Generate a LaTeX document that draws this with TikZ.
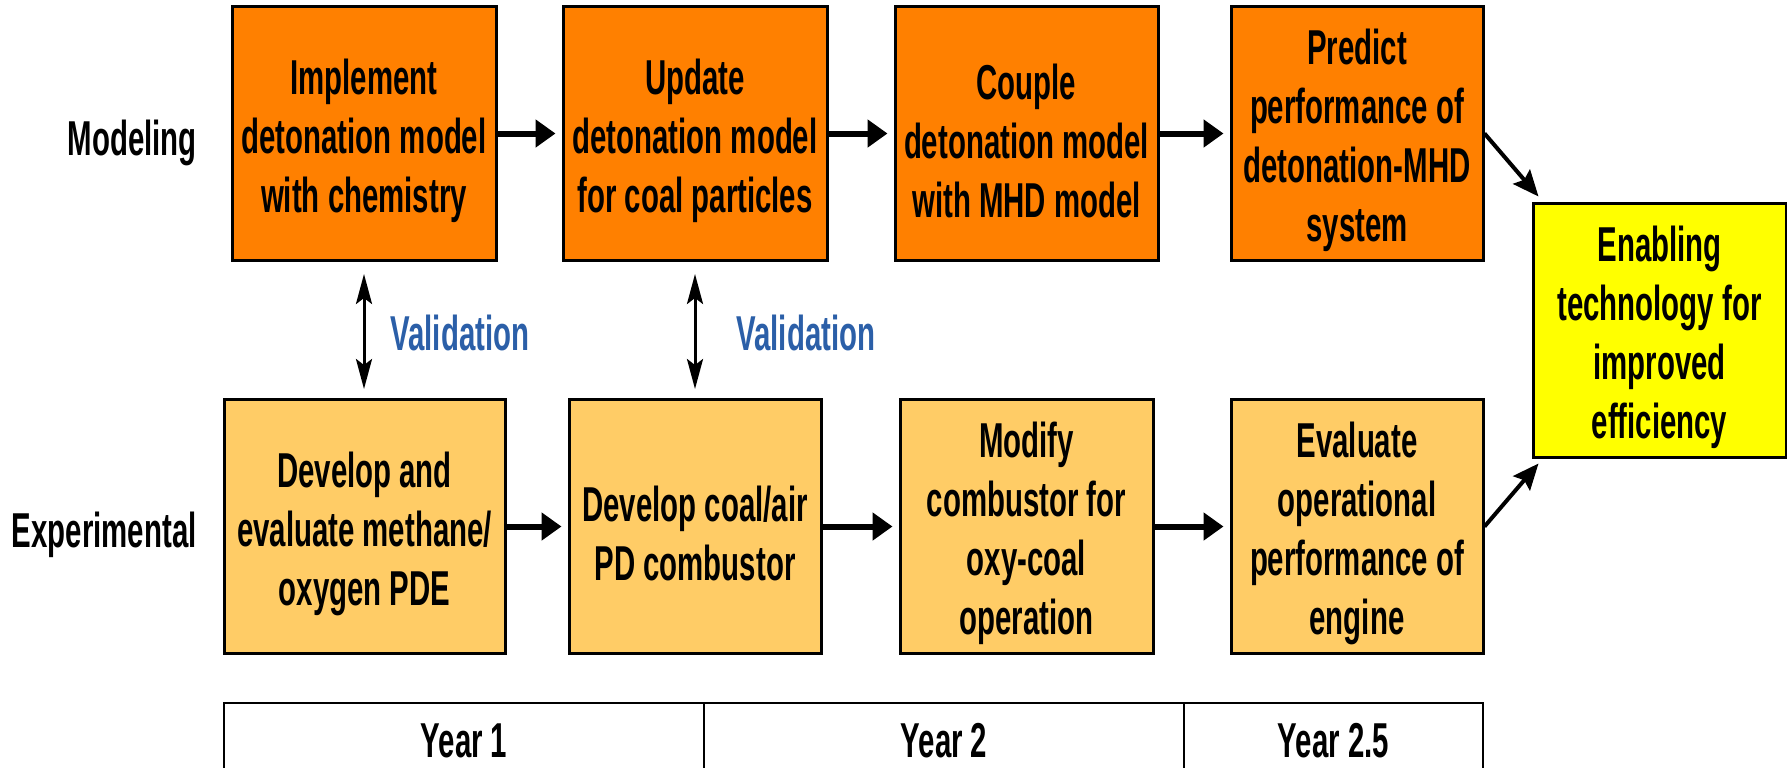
\documentclass[tikz,border=0pt]{standalone}
\usepackage{fontspec}
\newfontfamily\cf{Liberation Sans}[FakeStretch=0.6]
\usetikzlibrary{arrows.meta,calc}
\definecolor{topor}{HTML}{FF8000}
\definecolor{botor}{HTML}{FFCC66}
\definecolor{ylw}{HTML}{FFFF00}
\definecolor{valblue}{HTML}{2B5FA8}
\begin{document}
\begin{tikzpicture}[x=0.5pt,y=-0.5pt,
  txt/.style={font=\cf\bfseries\fontsize{24.5}{29.5}\selectfont, inner sep=0pt, align=center},
  boxbase/.style={draw=black, line width=1.5pt, minimum height=127pt, inner sep=0pt},
  topbox/.style={boxbase, fill=topor},
  botbox/.style={boxbase, fill=botor},
  endbox/.style={boxbase, fill=ylw},
  boxtext/.style={txt, yshift=-3.5pt},
  flow/.style={line width=3pt, -{Triangle[length=10pt,width=13.5pt]}, shorten >=3pt},
  valarrow/.style={line width=1.5pt, {Stealth[length=15pt,width=8pt,inset=3pt]}-{Stealth[length=15pt,width=8pt,inset=3pt]}},
  diag/.style={line width=2pt, -{Stealth[length=13pt,width=11pt,inset=2pt]}},
  tabline/.style={line width=1pt}
]
\clip (0,0) rectangle (1787,767);
\useasboundingbox (0,0) rectangle (1787,767);

% row labels
\node[txt, anchor=base east] (lmod) at (197,155) {Modeling};
\node[txt, anchor=base east] (lexp) at (197,547) {Experimental};

% top row
\node[topbox, minimum width=132pt] (t1) at (364,133.5) {};
\node[topbox, minimum width=132pt] (t2) at (695,133.5) {};
\node[topbox, minimum width=131.5pt] (t3) at (1026.5,133.5) {};
\node[topbox, minimum width=126pt] (t4) at (1357,133.5) {};
\node[boxtext] (t1t) at (t1.center) {Implement\\detonation model\\with chemistry};
\node[boxtext] (t2t) at (t2.center) {Update\\detonation model\\for coal particles};
\node[boxtext] (t3t) at (t3.center) {Couple\\detonation model\\with MHD model};
\node[boxtext] (t4t) at (t4.center) {Predict\\performance of\\detonation-MHD\\system};

% bottom row
\node[botbox, minimum width=140.5pt] (b1) at (364.5,526.5) {};
\node[botbox, minimum width=126pt] (b2) at (695,526.5) {};
\node[botbox, minimum width=126.5pt] (b3) at (1026.5,526.5) {};
\node[botbox, minimum width=126pt] (b4) at (1357,526.5) {};
\node[boxtext] (b1t) at (b1.center) {Develop and\\evaluate methane/\\oxygen PDE};
\node[boxtext] (b2t) at (b2.center) {Develop coal/air\\PD combustor};
\node[boxtext] (b3t) at (b3.center) {Modify\\combustor for\\oxy-coal\\operation};
\node[boxtext] (b4t) at (b4.center) {Evaluate\\operational\\performance of\\engine};

% end box
\node[endbox, minimum width=126.5pt] (en) at (1659.5,330) {};
\node[boxtext] (ent) at (en.center) {Enabling\\technology for\\improved\\efficiency};

% flow arrows
\draw[flow] (t1.east) -- (t2.west);
\draw[flow] (t2.east) -- (t3.west);
\draw[flow] (t3.east) -- (t4.west);
\draw[flow] (b1.east) -- (b2.west);
\draw[flow] (b2.east) -- (b3.west);
\draw[flow] (b3.east) -- (b4.west);

% validation arrows
\draw[valarrow, shorten <=6pt, shorten >=4.5pt] (t1.south) -- (t1.south |- b1.north);
\draw[valarrow, shorten <=6pt, shorten >=4.5pt] (t2.south) -- (t2.south |- b2.north);
\node[txt, text=valblue, anchor=base west] (v1) at (390,350) {Validation};
\node[txt, text=valblue, anchor=base west] (v2) at (736,350) {Validation};

% diagonal arrows
\coordinate (entop) at ($(en.north west)+(7,-5)$);
\coordinate (enbot) at ($(en.south west)+(7,5)$);
\draw[diag] (t4.east) -- (entop);
\draw[diag] (b4.east) -- (enbot);

% year table
\coordinate (ya) at (224,703);
\coordinate (yb) at (704,703);
\coordinate (yc) at (1184,703);
\coordinate (yd) at (1483,703);
\draw[tabline] (224,790) -- (ya) -- (yd) -- (1483,790);
\draw[tabline] (yb) -- (704,790);
\draw[tabline] (yc) -- (1184,790);
\node[txt, anchor=base] (y1) at (464,757) {Year 1};
\node[txt, anchor=base] (y2) at (944,757) {Year 2};
\node[txt, anchor=base] (y3) at (1333.5,757) {Year 2.5};
\end{tikzpicture}
\end{document}
